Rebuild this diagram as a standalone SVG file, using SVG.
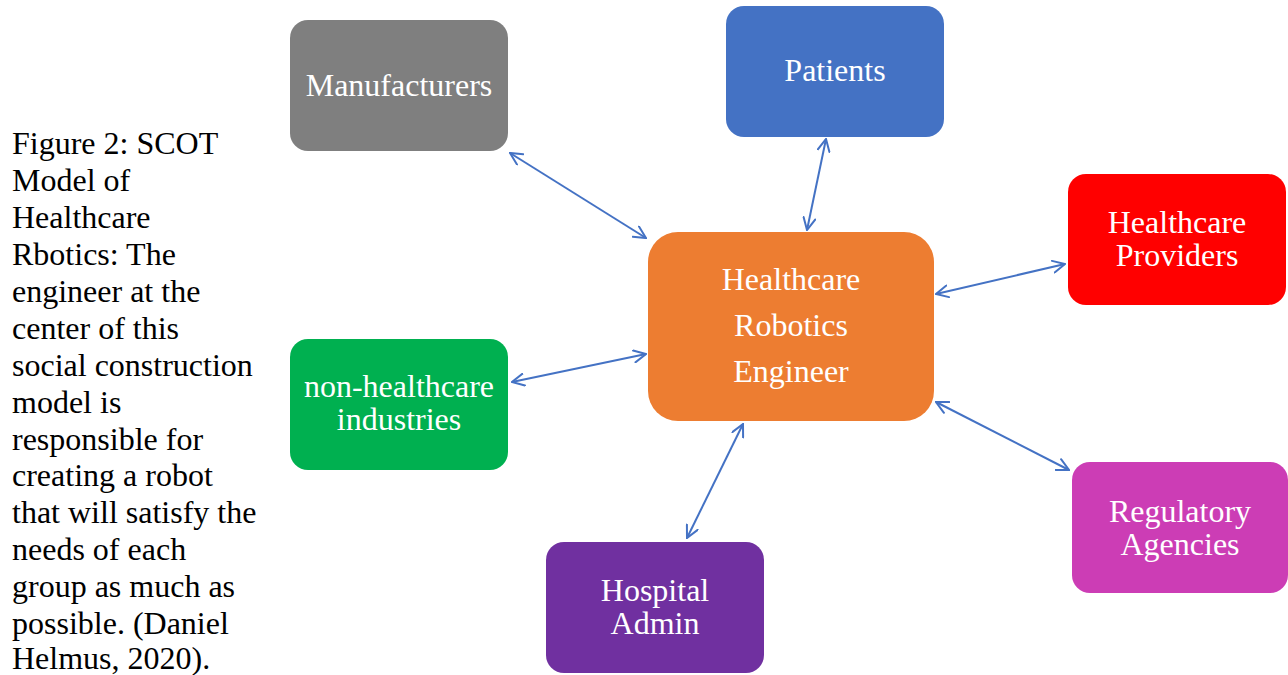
<svg xmlns="http://www.w3.org/2000/svg" width="1288" height="675" viewBox="0 0 1288 675">
  <style>
    .lbl { font-family: "Liberation Serif", "Times New Roman", serif; font-size: 32px; fill: #FFFFFF; text-anchor: middle; }
    .cap { font-family: "Liberation Serif", "Times New Roman", serif; font-size: 32px; fill: #000000; }
    .link { fill: none; stroke: #4472C4; stroke-width: 2; marker-start: url(#arr); marker-end: url(#arr); }
  </style>
  <defs>
    <marker id="arr" viewBox="0 0 14 14" refX="13" refY="7" markerWidth="14" markerHeight="14" markerUnits="userSpaceOnUse" orient="auto-start-reverse">
      <path d="M1,1 L13,7 L1,13" fill="none" stroke="#4472C4" stroke-width="2" stroke-linecap="round" stroke-linejoin="miter"/>
    </marker>
  </defs>
  <rect width="1288" height="675" fill="#FFFFFF"/>

  <!-- caption -->
  <g id="caption">
    <text class="cap" x="12" y="154">Figure 2: SCOT</text>
    <text class="cap" x="12" y="191">Model of</text>
    <text class="cap" x="12" y="228">Healthcare</text>
    <text class="cap" x="12" y="265">Rbotics: The</text>
    <text class="cap" x="12" y="302">engineer at the</text>
    <text class="cap" x="12" y="339">center of this</text>
    <text class="cap" x="12" y="376">social construction</text>
    <text class="cap" x="12" y="413">model is</text>
    <text class="cap" x="12" y="450">responsible for</text>
    <text class="cap" x="12" y="486">creating a robot</text>
    <text class="cap" x="12" y="523">that will satisfy the</text>
    <text class="cap" x="12" y="560">needs of each</text>
    <text class="cap" x="12" y="597">group as much as</text>
    <text class="cap" x="12" y="634">possible. (Daniel</text>
    <text class="cap" x="12" y="669">Helmus, 2020).</text>
  </g>

  <!-- connectors -->
  <g id="connectors">
    <line class="link" x1="510" y1="153" x2="646" y2="238"/>
    <line class="link" x1="826" y1="139" x2="807" y2="230"/>
    <line class="link" x1="936" y1="294" x2="1065" y2="264"/>
    <line class="link" x1="512" y1="382" x2="646" y2="354"/>
    <line class="link" x1="936" y1="402" x2="1069" y2="470"/>
    <line class="link" x1="743" y1="424" x2="687" y2="538"/>
  </g>

  <g id="engineer">
    <rect x="648" y="232" width="286" height="189" rx="30" ry="30" fill="#ED7D31"/>
    <text class="lbl" x="791" y="290">Healthcare</text>
    <text class="lbl" x="791" y="336">Robotics</text>
    <text class="lbl" x="791" y="382">Engineer</text>
  </g>

  <g id="manufacturers">
    <rect x="290" y="20" width="218" height="131" rx="18" ry="18" fill="#7F7F7F"/>
    <text class="lbl" x="399" y="96">Manufacturers</text>
  </g>

  <g id="patients">
    <rect x="726" y="6" width="218" height="131" rx="18" ry="18" fill="#4472C4"/>
    <text class="lbl" x="835" y="81">Patients</text>
  </g>

  <g id="providers">
    <rect x="1068" y="174" width="218" height="131" rx="18" ry="18" fill="#FF0000"/>
    <text class="lbl" x="1177" y="233">Healthcare</text>
    <text class="lbl" x="1177" y="266">Providers</text>
  </g>

  <g id="nonhealthcare">
    <rect x="290" y="339" width="218" height="131" rx="18" ry="18" fill="#00B050"/>
    <text class="lbl" x="399" y="397">non-healthcare</text>
    <text class="lbl" x="399" y="430">industries</text>
  </g>

  <g id="regulatory">
    <rect x="1072" y="462" width="216" height="131" rx="18" ry="18" fill="#CC3DB5"/>
    <text class="lbl" x="1180" y="522">Regulatory</text>
    <text class="lbl" x="1180" y="555">Agencies</text>
  </g>

  <g id="hospital">
    <rect x="546" y="542" width="218" height="131" rx="18" ry="18" fill="#7030A0"/>
    <text class="lbl" x="655" y="601">Hospital</text>
    <text class="lbl" x="655" y="634">Admin</text>
  </g>
</svg>
